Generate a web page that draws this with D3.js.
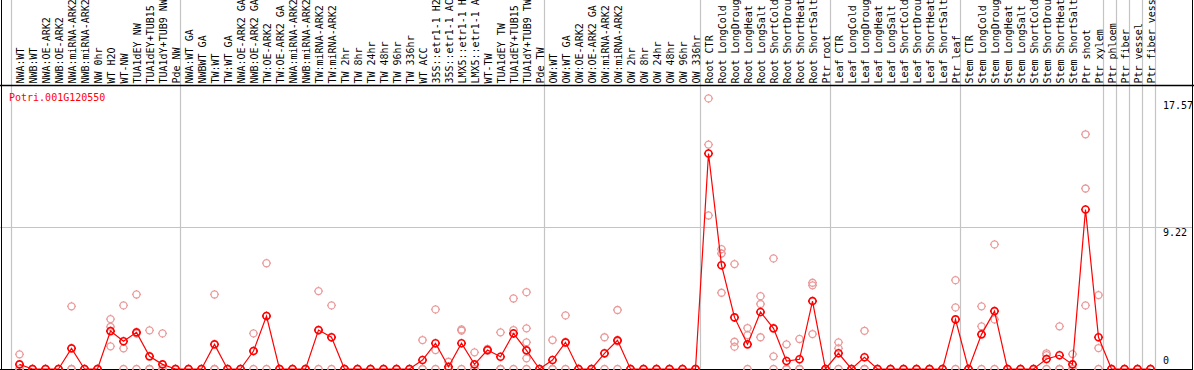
<!DOCTYPE html>
<html>
<head>
<meta charset="utf-8">
<script src="https://cdn.jsdelivr.net/npm/d3@7"></script>
<style>
	body { margin: 0; background: #fff; }
	svg { display: block; }
	text { font-family: 'DejaVu Sans Mono', monospace; font-size: 10px; }
</style>
</head>
<body>
<svg id="chart"></svg>
<script>
// gene shown in the corner
var geneName = 'Potri.001G120550';

// one label per sample column, left to right
var sampleLabels = [
	'NWA:WT', 'NWB:WT', 'NWA:OE-ARK2', 'NWB:OE-ARK2', 'NWA:miRNA-ARK2', 'NWB:miRNA-ARK2',
	'NW 0hr', 'WT H2O', 'WT-NW', 'TUA1dEY NW', 'TUA1dEY+TUB15 NW', 'TUA1dY+TUB9 NW', 'Pde NW',
	'NWA:WT GA', 'NWBWT GA', 'TW:WT', 'TW:WT GA', 'NWA:OE-ARK2 GA', 'NWB:OE-ARK2 GA',
	'TW:OE-ARK2', 'TW:OE-ARK2 GA', 'NWA:miRNA-ARK2 GA', 'NWB:miRNA-ARK2 GA', 'TW:miRNA-ARK2',
	'TW:miRNA-ARK2 GA', 'TW 2hr', 'TW 8hr', 'TW 24hr', 'TW 48hr', 'TW 96hr', 'TW 336hr',
	'WT ACC', '35S::etr1-1 H2O', '35S::etr1-1 ACC', 'LMX5::etr1-1 H2O', 'LMX5::etr1-1 ACC',
	'WT-TW', 'TUA1dEY TW', 'TUA1dEY+TUB15 TW', 'TUA1dY+TUB9 TW', 'Pde TW',
	'OW:WT', 'OW:WT GA', 'OW:OE-ARK2', 'OW:OE-ARK2 GA', 'OW:miRNA-ARK2', 'OW:miRNA-ARK2 GA',
	'OW 2hr', 'OW 8hr', 'OW 24hr', 'OW 48hr', 'OW 96hr', 'OW 336hr',
	'Root CTR', 'Root LongCold', 'Root LongDrought', 'Root LongHeat', 'Root LongSalt',
	'Root ShortCold', 'Root ShortDrought', 'Root ShortHeat', 'Root ShortSalt', 'Ptr root',
	'Leaf CTR', 'Leaf LongCold', 'Leaf LongDrought', 'Leaf LongHeat', 'Leaf LongSalt',
	'Leaf ShortCold', 'Leaf ShortDrought', 'Leaf ShortHeat', 'Leaf ShortSalt', 'Ptr leaf',
	'Stem CTR', 'Stem LongCold', 'Stem LongDrought', 'Stem LongHeat', 'Stem LongSalt',
	'Stem ShortCold', 'Stem ShortDrought', 'Stem ShortHeat', 'Stem ShortSalt', 'Ptr shoot',
	'Ptr xylem', 'Ptr phloem', 'Ptr fiber', 'Ptr vessel', 'Ptr fiber vessel'
];

// mean expression per column (dark red line)
var meanValues = [
	0.30, 0, 0, 0, 1.34, 0, 0, 2.46, 1.80, 2.38, 0.82, 0.30, 0,
	0, 0, 1.60, 0, 0, 1.17, 3.44, 0, 0, 0, 2.53, 2.06, 0, 0, 0, 0, 0, 0,
	0.58, 1.67, 0.15, 1.67, 0.30, 1.23, 0.80, 2.31, 1.21, 0,
	0.58, 1.73, 0, 0, 1.02, 1.86, 0, 0, 0, 0, 0, 0,
	13.99, 6.74, 3.35, 1.60, 3.70, 2.64, 0.52, 0.63, 4.41, 0,
	1.02, 0, 0.76, 0, 0, 0, 0, 0, 0, 3.22,
	0, 2.25, 3.76, 0, 0, 0, 0.65, 0.89, 0.30, 10.36, 2.06,
	0, 0, 0, 0
];

// single replicates per column (pale circles)
var replicateValues = [
	[0.95, 0, 0], [0, 0, 0], [0, 0, 0], [0, 0, 0], [4.07, 0, 0], [0, 0, 0], [0, 0, 0],
	[3.24, 2.74, 1.47], [4.13, 1.34, 0], [4.84, 2.30, 0], [2.51, 0, 0], [2.31, 0, 0], [0, 0, 0],
	[0, 0, 0], [0, 0, 0], [4.84, 0, 0], [0, 0, 0], [0, 0, 0], [2.31, 1.17, 0], [6.87, 3.45, 0],
	[0, 0, 0], [0, 0, 0], [0, 0, 0], [5.06, 2.50, 0], [4.13, 2.05, 0],
	[0, 0, 0], [0, 0, 0], [0, 0, 0], [0, 0, 0], [0, 0, 0], [0, 0, 0],
	[1.88, 0, 0], [3.87, 1.23, 0], [0.47, 0, 0], [2.57, 2.50, 0], [1.08, 0, 0],
	[1.30, 1.20, 1.20], [2.38, 0, 0], [4.58, 2.53, 0], [4.99, 2.64, 1.73, 0.69, 0], [0, 0, 0],
	[1.88, 0, 0], [3.48, 1.70, 0], [0, 0, 0], [0, 0, 0], [2.06, 1.00, 0], [3.83, 1.80, 0],
	[0, 0, 0], [0, 0, 0], [0, 0, 0], [0, 0, 0], [0, 0, 0], [0, 0, 0],
	[17.57, 14.57, 9.97], [7.78, 7.50, 4.95], [6.81, 1.77, 1.45], [2.66, 2.20, 0],
	[4.73, 4.22, 2.06], [7.18, 0.82, 0], [1.60, 0, 0], [1.95, 0, 0], [5.60, 5.43, 2.27], [0, 0, 0],
	[1.73, 1.34, 0], [0, 0, 0], [2.48, 0, 0], [0, 0, 0], [0, 0, 0], [0, 0, 0], [0, 0, 0],
	[0, 0, 0], [0, 0, 0], [5.77, 4.00, 0],
	[0, 0, 0], [4.07, 2.77, 0], [8.09, 3.22, 0], [0, 0, 0], [0, 0, 0], [0, 0, 0],
	[1.02, 0.90, 0], [2.77, 0, 0], [0.97, 0, 0], [15.24, 11.72, 4.13], [4.80, 1.36, 0],
	[0, 0, 0], [0, 0, 0], [0, 0, 0], [0, 0, 0]
];

// column index where each gray separator sits (before that column)
var groupStarts = [0, 13, 41, 53, 63, 73, 84, 85, 86, 87, 88];
var axisTicks = [0, 9.22, 17.57];
var gridValues = [9.22];

var vWidth = 1194;
var vHeight = 370;
var plotTop = 85.5;
var plotBottom = 369;
var plotRight = 1192.5;
var colStep = 13;
var maxLabelChars = 14; // header only has room for 14 characters

var svg = d3
	.select('#chart')
	.attr('width', vWidth)
	.attr('height', vHeight);

var x = d3
	.scaleLinear()
	.domain([0, sampleLabels.length - 1])
	.range([19.5, 19.5 + (sampleLabels.length - 1) * colStep]);

var y = d3
	.scaleLinear()
	.domain([0, d3.max(axisTicks)])
	.range([plotBottom, 98.4]);

// gray separators between sample groups, full height
svg.append('g')
	.selectAll('line')
	.data(groupStarts)
	.enter()
	.append('line')
	.attr('x1', function(d) { return Math.round(x(d) - 8.5) + 0.5; })
	.attr('x2', function(d) { return Math.round(x(d) - 8.5) + 0.5; })
	.attr('y1', 0)
	.attr('y2', plotBottom)
	.attr('stroke', '#c4c4c4')
	.attr('stroke-width', 1.2);

// horizontal grid line
svg.append('g')
	.selectAll('line')
	.data(gridValues)
	.enter()
	.append('line')
	.attr('x1', 0)
	.attr('x2', plotRight)
	.attr('y1', function(d) { return Math.round(y(d)) + 0.5; })
	.attr('y2', function(d) { return Math.round(y(d)) + 0.5; })
	.attr('stroke', '#c4c4c4')
	.attr('stroke-width', 1.2);

// rotated sample labels, cut to what fits in the header like the original
svg.append('g')
	.selectAll('text')
	.data(sampleLabels)
	.enter()
	.append('text')
	.attr('transform', function(d, i) {
		return 'translate(' + (x(i) + 4) + ',83.5) rotate(-90)';
	})
	.attr('fill', '#000')
	.text(function(d) { return d.slice(0, maxLabelChars).trim(); })
	.append('title')
	.text(function(d) { return d; });

// frame
var frame = svg.append('g').attr('stroke', '#000').attr('fill', 'none');
frame.append('line').attr('x1', 0).attr('x2', vWidth).attr('y1', plotTop).attr('y2', plotTop).attr('stroke-width', 1.5);
frame.append('line').attr('x1', 0).attr('x2', plotRight).attr('y1', plotBottom + 0.5).attr('y2', plotBottom + 0.5);
frame.append('line').attr('x1', 1.5).attr('x2', 1.5).attr('y1', 0).attr('y2', vHeight);
frame.append('line').attr('x1', plotRight).attr('x2', plotRight).attr('y1', 0).attr('y2', vHeight);

// circle with small ticks, like the original markers
function marker(r) {
	var t = 1;
	return 'M' + (-r) + ',0A' + r + ',' + r + ' 0 1,0 ' + r + ',0A' + r + ',' + r + ' 0 1,0 ' + (-r) + ',0' +
		'M0,' + (-r) + 'V' + (-r - t) + 'M0,' + r + 'V' + (r + t) +
		'M' + (-r) + ',0H' + (-r - t) + 'M' + r + ',0H' + (r + t);
}

// replicate points
var repPoints = [];
replicateValues.forEach(function(reps, i) {
	reps.forEach(function(v) {
		repPoints.push({ i: i, v: v });
	});
});

svg.append('g')
	.selectAll('path')
	.data(repPoints)
	.enter()
	.append('path')
	.attr('d', marker(3.5))
	.attr('transform', function(d) { return 'translate(' + x(d.i) + ',' + y(d.v) + ')'; })
	.attr('fill', 'none')
	.attr('stroke', '#eb9a9a')
	.attr('stroke-width', 1.3);

// mean line
var vLine = d3
	.line()
	.x(function(d, i) { return x(i); })
	.y(function(d) { return y(d); });

svg.append('path')
	.datum(meanValues)
	.attr('d', vLine)
	.attr('fill', 'none')
	.attr('stroke', '#ff0000')
	.attr('stroke-width', 1.2);

svg.append('g')
	.selectAll('path')
	.data(meanValues)
	.enter()
	.append('path')
	.attr('d', marker(3.5))
	.attr('transform', function(d, i) { return 'translate(' + x(i) + ',' + y(d) + ')'; })
	.attr('fill', 'none')
	.attr('stroke', '#ff0000')
	.attr('stroke-width', 1.6);

// value labels on the right
var yAxis = d3
	.axisRight(y)
	.tickValues(axisTicks)
	.tickSize(0)
	.tickPadding(0)
	.tickFormat(function(d) { return String(d); });

var axisG = svg.append('g')
	.attr('transform', 'translate(1163,0)')
	.call(yAxis);
axisG.select('.domain').remove();
axisG.selectAll('text')
	.attr('font-family', "'DejaVu Sans Mono', monospace")
	.attr('font-size', 10)
	.attr('fill', '#000')
	.attr('dy', function(d) { return d === 0 ? '-0.55em' : (d === d3.max(axisTicks) ? '1.0em' : '0.85em'); });

svg.append('text')
	.attr('x', 9)
	.attr('y', 101)
	.attr('fill', '#ff0000')
	.text(geneName);
</script>
</body>
</html>
